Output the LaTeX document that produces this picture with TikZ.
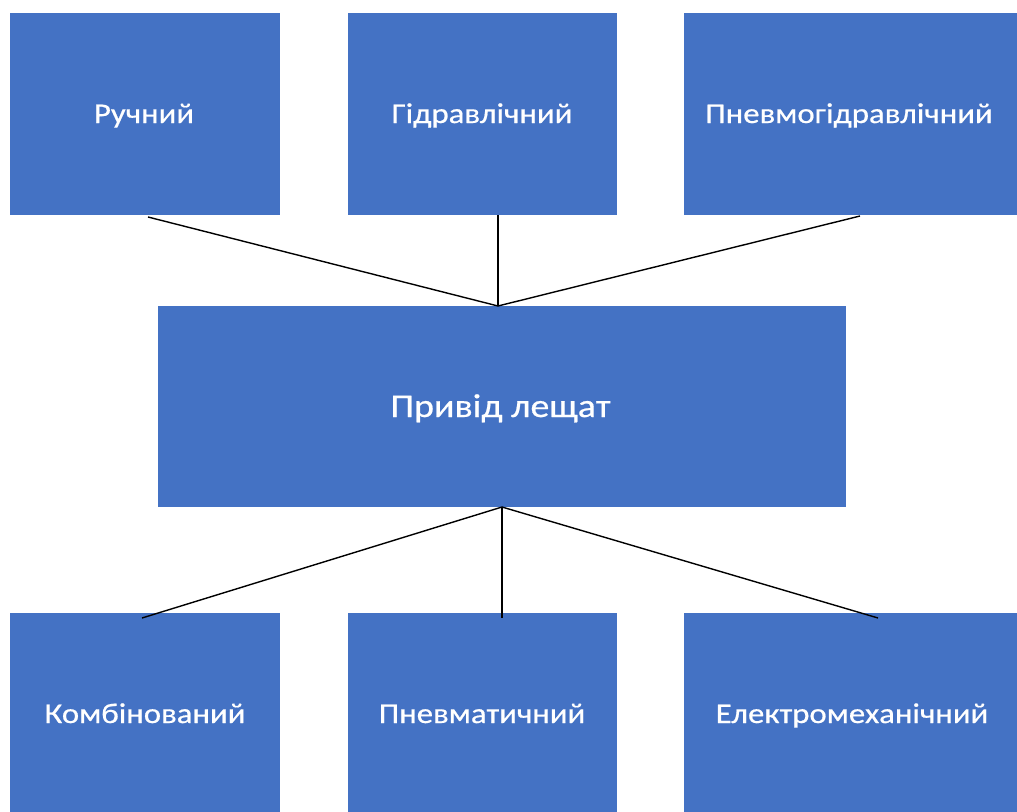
\documentclass[tikz,border=0pt]{standalone}
\usepackage{fontspec}
\setmainfont[FakeStretch=1.15,FakeBold=0.6]{Carlito}
\definecolor{boxblue}{HTML}{4472C4}
\begin{document}
\begin{tikzpicture}[x=1pt,y=-1pt,
  box/.style={fill=boxblue,draw=none,anchor=north west,inner sep=0pt},
  lbl/.style={text=white,anchor=base,inner sep=0pt,font=\fontsize{28.5}{32}\selectfont},
  biglbl/.style={text=white,anchor=base,inner sep=0pt,font=\fontsize{33}{38}\selectfont},
  conn/.style={draw=black,line width=1.4pt}]
\useasboundingbox[fill=white] (0,0) rectangle (1017,811);
\node[box,minimum width=270pt,minimum height=202pt] (r) at (10,13) {};
\node[box,minimum width=269pt,minimum height=202pt] (g) at (348,13) {};
\node[box,minimum width=340pt,minimum height=202pt] (p) at (684,13) {};
\node[box,minimum width=688pt,minimum height=201pt] (c) at (158,306) {};
\node[box,minimum width=270pt,minimum height=210pt] (k) at (10,613) {};
\node[box,minimum width=269pt,minimum height=210pt] (pn) at (348,613) {};
\node[box,minimum width=340pt,minimum height=210pt] (e) at (684,613) {};
\node[lbl] (rt) at (144,123) {Ручний};
\node[lbl] (gt) at (482,123) {Гідравлічний};
\node[lbl] (pt) at (849,123) {Пневмогідравлічний};
\node[biglbl] (ctxt) at (500.5,417) {Привід лещат};
\node[lbl] (kt) at (145,723) {Комбінований};
\node[lbl] (pnt) at (482,723) {Пневматичний};
\node[lbl] (et) at (852,723) {Електромеханічний};
\coordinate (ct) at (498,306);
\coordinate (cb) at (502,507);
\coordinate (r1) at (148,217);
\coordinate (g1) at (498,215);
\coordinate (p1) at (860,216);
\coordinate (k1) at (142,618);
\coordinate (pn1) at (502,618);
\coordinate (e1) at (878,618);
\draw[conn] (r1) -- (ct);
\draw[conn] (g1) -- (ct);
\draw[conn] (p1) -- (ct);
\draw[conn] (cb) -- (k1);
\draw[conn] (cb) -- (pn1);
\draw[conn] (cb) -- (e1);
\end{tikzpicture}
\end{document}
